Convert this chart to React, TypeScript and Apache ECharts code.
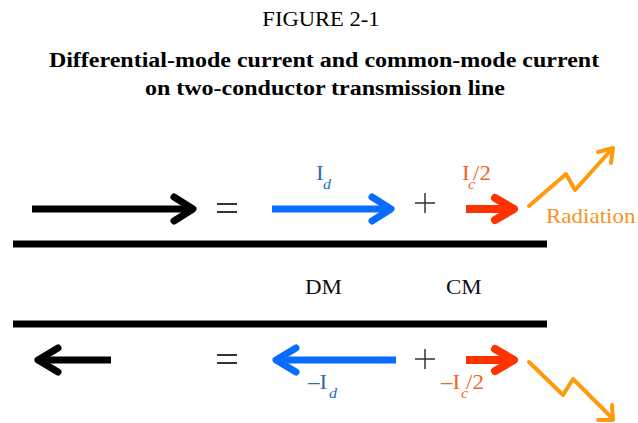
import React, { useEffect, useRef } from "react";
import * as echarts from "echarts";

const figureLabel = ["FIGURE 2-1"];
const titleLines = [
  "Differential-mode current and common-mode current",
  "on two-conductor transmission line",
];
const modeLabels = ["DM", "CM"];
const radiationLabel = ["Radiation"];
const currentTop = ["I", "d", "I", "c", "/2"];
const currentBottom = ["\u2013I", "d", "\u2013I", "c", "/2"];

const SERIF = "'Liberation Serif', 'Times New Roman', serif";
const BLACK = "#000000";
const BLUE = "#0a6cff";
const RED = "#ff3300";
const ORANGE = "#ff9a0a";
const LBLUE = "#2a6db5";
const LORANGE = "#f26522";
const RAD = "#f7941d";
const GRAY = "#333333";

function txt(text: string, x: number, y: number, size: number, fill: string, opts: any = {}) {
  return {
    type: "text",
    x,
    y,
    scaleX: opts.sx ?? 1.15,
    style: {
      text,
      fontSize: size,
      fontFamily: SERIF,
      fontWeight: opts.bold ? "bold" : "normal",
      fontStyle: opts.italic ? "italic" : "normal",
      fill,
      align: opts.align ?? "left",
      verticalAlign: opts.va ?? "middle",
    },
  };
}

function line(x1: number, y1: number, x2: number, y2: number, color: string, w: number, cap = "butt") {
  return {
    type: "line",
    shape: { x1, y1, x2, y2 },
    style: { stroke: color, lineWidth: w, lineCap: cap },
  };
}

function poly(points: number[][], color: string, w: number) {
  return {
    type: "polyline",
    shape: { points },
    style: { stroke: color, lineWidth: w, lineCap: "round", lineJoin: "round", fill: null },
  };
}

export default function App() {
  const ref = useRef<HTMLDivElement>(null);
  useEffect(() => {
    if (!ref.current) return;
    const chart = echarts.init(ref.current, null, { renderer: "svg" });
    const els: any[] = [];
    // titles
    els.push(txt(figureLabel[0], 321, 19, 20, "#000", { align: "center", sx: 1.13 }));
    els.push(txt(titleLines[0], 324, 60, 20, "#000", { align: "center", bold: true, sx: 1.2 }));
    els.push(txt(titleLines[1], 325, 88, 20, "#000", { align: "center", bold: true, sx: 1.2 }));

    // wires
    els.push(line(13, 244, 547, 244, BLACK, 7));
    els.push(line(13, 324, 547, 324, BLACK, 7));

    // top row
    els.push(line(32, 209, 192, 209, BLACK, 7));
    els.push(poly([[174, 197], [193, 209], [174, 221]], BLACK, 7));
    els.push(line(217, 204, 237, 204, GRAY, 2));
    els.push(line(217, 212, 237, 212, GRAY, 2));
    els.push(line(272, 209, 390, 209, BLUE, 7));
    els.push(poly([[372, 197], [391, 209], [372, 221]], BLUE, 7));
    els.push(line(415, 203, 435, 203, GRAY, 1.5));
    els.push(line(425, 193, 425, 213, GRAY, 1.5));
    els.push(line(466, 209, 512, 209, RED, 8));
    els.push(poly([[495, 198], [514, 209], [495, 220]], RED, 8));
    els.push(poly([[529, 206], [566, 174], [575, 190], [612, 149]], ORANGE, 4));
    els.push(poly([[598, 152], [613, 148], [611, 163]], ORANGE, 4));

    // bottom row
    els.push(line(40, 360, 111, 360, BLACK, 7));
    els.push(poly([[58, 348], [38, 360], [58, 372]], BLACK, 7));
    els.push(line(217, 355, 237, 355, GRAY, 2));
    els.push(line(217, 363, 237, 363, GRAY, 2));
    els.push(line(278, 360, 396, 360, BLUE, 7));
    els.push(poly([[296, 348], [276, 360], [296, 372]], BLUE, 7));
    els.push(line(415, 359, 435, 359, GRAY, 1.5));
    els.push(line(425, 349, 425, 369, GRAY, 1.5));
    els.push(line(466, 360, 512, 360, RED, 8));
    els.push(poly([[495, 349], [514, 360], [495, 371]], RED, 8));
    els.push(poly([[529, 362], [563, 395], [573, 379], [612, 418]], ORANGE, 4));
    els.push(poly([[598, 420], [613, 420], [612, 405]], ORANGE, 4));

    // labels top
    els.push(txt(currentTop[0], 316, 174, 20, LBLUE));
    els.push(txt(currentTop[1], 323, 184, 14, LBLUE, { italic: true }));
    els.push(txt(currentTop[2], 462, 174, 20, LORANGE));
    els.push(txt(currentTop[3], 468, 184, 14, LORANGE, { italic: true }));
    els.push(txt(currentTop[4], 473, 174, 20, LORANGE));
    els.push(txt(radiationLabel[0], 546, 217, 20, RAD));

    // mode labels
    els.push(txt(modeLabels[0], 305, 288, 20, "#111"));
    els.push(txt(modeLabels[1], 446, 288, 20, "#111"));

    // labels bottom
    els.push(txt(currentBottom[0], 308, 383, 20, LBLUE));
    els.push(txt(currentBottom[1], 329, 393, 14, LBLUE, { italic: true }));
    els.push(txt(currentBottom[2], 441, 383, 20, LORANGE));
    els.push(txt(currentBottom[3], 461, 393, 14, LORANGE, { italic: true }));
    els.push(txt(currentBottom[4], 466, 383, 20, LORANGE));

    chart.setOption({ animation: false, graphic: { elements: els } });
    return () => chart.dispose();
  }, []);
  return (
    <div
      ref={ref}
      style={{ position: "fixed", left: 0, top: 0, width: 638, height: 423, background: "#fff" }}
    />
  );
}
